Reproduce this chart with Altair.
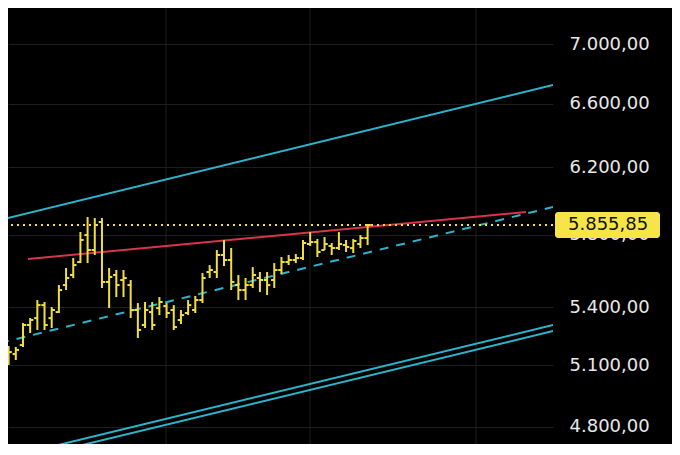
import altair as alt
import pandas as pd

# ---- OHLC bars ----
opens = [5166, 5151, 5156, 5202, 5306, 5342, 5411, 5342, 5374, 5519,
         5574, 5646, 5798, 5713, 5873, 5536, 5574, 5546.5, 5519, 5385,
         5306, 5374, 5395, 5406, 5385, 5332, 5369, 5385, 5438, 5590.5,
         5590.5, 5685, 5657, 5519, 5492, 5519, 5557.5, 5546.5, 5546.5, 5601.5,
         5646, 5657, 5668, 5747, 5758, 5713, 5735.7, 5724.4, 5741, 5724,
         5747, 5781]
highs = [5212, 5197, 5192, 5316, 5342.5, 5438, 5427.5, 5400.8, 5519, 5612.6,
         5668, 5815.4, 5902, 5896, 5896, 5613, 5601.5, 5601.5, 5546.5, 5422,
         5427.5, 5427.5, 5454, 5422, 5411, 5385, 5438, 5460, 5585, 5629,
         5713, 5770, 5724.4, 5574, 5557.5, 5618, 5590.5, 5590.5, 5640, 5674,
         5685, 5690.6, 5770, 5815, 5775.4, 5786.8, 5752.7, 5815, 5770, 5775,
         5798, 5861.5]
lows = [5126, 5101, 5126, 5192, 5264, 5280, 5280, 5290, 5369, 5492,
        5557, 5640, 5640, 5685, 5503, 5395.4, 5454, 5454, 5342.5, 5238,
        5290, 5280, 5358, 5342.5, 5280, 5311, 5358, 5369, 5422, 5557.5,
        5557.5, 5623.7, 5492, 5438, 5438, 5503, 5481, 5465, 5503, 5579.4,
        5629, 5640, 5657, 5735.7, 5674, 5713, 5685, 5713, 5702, 5696,
        5724, 5741]
closes = [5151, 5166, 5177, 5306, 5332, 5411, 5306, 5385, 5492, 5557.5,
          5629, 5770, 5713, 5856, 5535.6, 5563, 5519, 5557.5, 5385, 5280,
          5385, 5306, 5427.5, 5369, 5295, 5358, 5411, 5438, 5557.5, 5601.5,
          5685, 5657, 5536, 5492, 5519, 5574, 5546.5, 5519, 5601.5, 5646,
          5657, 5668, 5752.7, 5758, 5701.9, 5747, 5724.4, 5747, 5730, 5764,
          5781, 5855.85]
bar_index = list(range(len(opens)))

last_price = 5855.85

# ---- drawn trend lines (two end points each: bar index, price) ----
upper_x, upper_y = [-0.2, 76.82], [5884.6, 6722.6]
low1_x, low1_y = [-0.2, 76.82], [4648.6, 5305.8]
low2_x, low2_y = [-0.2, 76.82], [4622.0, 5274.5]
mid_dash_x, mid_dash_y = [-0.2, 76.82], [5212.5, 5960.6]
low_dash_x, low_dash_y = [66.65, 76.82], [4622.4, 4709.0]
red_x, red_y = [3.70, 73.06], [5662.6, 5931.2]

# ---- axes ----
y_ticks = [4800, 5100, 5400, 5800, 6200, 6600, 7000]
month_lines = [22.92, 42.98, 66.1]

BG = "#000000"
YELLOW = "#f0df3e"
CYAN = "#2bb5cc"
RED = "#d8344c"
GRID = "#1e1e1e"

bars = pd.DataFrame({"i": bar_index, "o": opens, "h": highs, "l": lows, "c": closes})

def seg(name, xs, ys):
    return pd.DataFrame({"name": [name] * len(xs), "x": xs, "y": ys})

solid_cyan = pd.concat([seg("upper", upper_x, upper_y),
                        seg("low1", low1_x, low1_y),
                        seg("low2", low2_x, low2_y)])
dash_cyan = pd.concat([seg("mid", mid_dash_x, mid_dash_y),
                       seg("lowdash", low_dash_x, low_dash_y)])
red_line = seg("red", red_x, red_y)

def fmt_de(v):
    return f"{v:,.2f}".replace(",", "X").replace(".", ",").replace("X", ".")

last_df = pd.DataFrame({"p": [last_price], "label": [fmt_de(last_price)]})
month_df = pd.DataFrame({"m": month_lines})

xscale = alt.Scale(domain=[0.914, 76.82], nice=False, zero=False)
yscale = alt.Scale(type="log", domain=[4718.4, 7253], nice=False, zero=False)

yaxis = alt.Axis(
    orient="right", values=y_ticks,
    labelExpr="replace(replace(replace(format(datum.value, ',.2f'), ',', 'X'), '.', ','), 'X', '.')",
    grid=True, gridColor=GRID, gridWidth=1, domain=False, ticks=False, tickSize=0,
    labelColor="#e8e8e8", labelFontSize=18, labelFont="DejaVu Sans",
    labelPadding=16, labelAlign="left", labelBaseline="middle", zindex=0,
    title=None,
)

def X(field):
    return alt.X(field, type="quantitative", scale=xscale, axis=None)

def Y(field):
    return alt.Y(field, type="quantitative", scale=yscale, axis=yaxis, title=None)

vgrid = alt.Chart(month_df).mark_rule(color=GRID, strokeWidth=1).encode(x=X("m:Q"))

solid = alt.Chart(solid_cyan).mark_line(color=CYAN, strokeWidth=2, clip=True).encode(
    x=X("x:Q"), y=Y("y:Q"), detail="name:N")
dashed = alt.Chart(dash_cyan).mark_line(color=CYAN, strokeWidth=2, strokeDash=[9, 8], clip=True).encode(
    x=X("x:Q"), y=Y("y:Q"), detail="name:N")
redl = alt.Chart(red_line).mark_line(color=RED, strokeWidth=2, clip=True).encode(
    x=X("x:Q"), y=Y("y:Q"))

dotted = alt.Chart(last_df).mark_rule(color=YELLOW, strokeWidth=2, strokeDash=[2, 4]).encode(
    y=Y("p:Q"))

hl = alt.Chart(bars).mark_rule(color=YELLOW, strokeWidth=2, clip=True).encode(
    x=X("i:Q"), y=Y("l:Q"), y2="h:Q")
open_tick = alt.Chart(bars).transform_calculate(a="datum.i - 0.45").mark_rule(
    color=YELLOW, strokeWidth=2, clip=True).encode(x=X("a:Q"), x2="i:Q", y=Y("o:Q"))
close_tick = alt.Chart(bars).transform_calculate(b="datum.i + 0.45").mark_rule(
    color=YELLOW, strokeWidth=2, clip=True).encode(x=X("i:Q"), x2="b:Q", y=Y("c:Q"))

box = alt.Chart(last_df).mark_rect(color="#f7e548", cornerRadius=3, yOffset=-13, y2Offset=13).encode(
    x=alt.value(547), x2=alt.value(652), y=Y("p:Q"), y2="p:Q")
box_text = alt.Chart(last_df).mark_text(
    align="left", baseline="middle", fontSize=18, font="DejaVu Sans", color="#111111").encode(
    x=alt.value(560), y=Y("p:Q"), text="label:N")

chart = alt.layer(vgrid, solid, dashed, redl, dotted, hl, open_tick, close_tick, box, box_text).properties(
    width=545, height=436,
    autosize=alt.AutoSizeParams(type="none"),
    padding={"left": 0, "top": 0, "right": 119, "bottom": 0},
    background=BG,
).configure_view(stroke=None)

chart.save("out.html", embed_options={"renderer": "svg", "actions": False})
